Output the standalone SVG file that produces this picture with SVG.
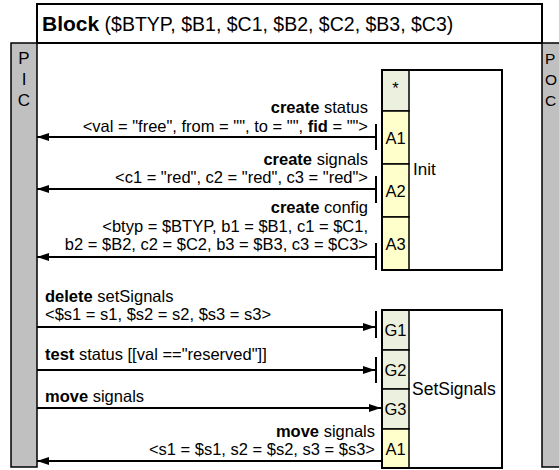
<svg xmlns="http://www.w3.org/2000/svg" width="559" height="470" viewBox="0 0 559 470">
<style>
text{font-family:"Liberation Sans",Arial,sans-serif;fill:#000}
.t{font-size:16.5px}
.c{font-size:16.5px;text-anchor:middle}
.p{font-size:17px}
.b{font-weight:bold}
.bar{fill:#c0c0c0;stroke:#000;stroke-width:1.5}
.box{fill:#fff;stroke:#000;stroke-width:2}
.g{fill:#ebf1de;stroke:#000;stroke-width:1.5}
.y{fill:#ffffcc;stroke:#000;stroke-width:1.5}
.ln{stroke:#000;stroke-width:2;fill:none}
.tb{stroke:#000;stroke-width:2}
</style>
<defs>
<marker id="ah" viewBox="0 0 12 8" refX="12" refY="4" markerWidth="12" markerHeight="8" markerUnits="userSpaceOnUse" orient="auto">
<path d="M0,0 L12,4 L0,8 Z" fill="#000"/>
</marker>
</defs>
<g id="title">
<rect x="37" y="4" width="505" height="39" fill="#fff" stroke="#000" stroke-width="2"/>
<text x="42" y="31" style="font-size:21px"><tspan class="b">Block</tspan><tspan style="font-size:19.5px"> ($BTYP, $B1, $C1, $B2, $C2, $B3, $C3)</tspan></text>
</g>
<g id="PIC">
<rect x="11" y="43" width="26" height="424" class="bar"/>
<text class="c p" x="24" y="64">P</text>
<text class="c p" x="24" y="85">I</text>
<text class="c p" x="24" y="106">C</text>
</g>
<g id="POC">
<rect x="542" y="43" width="20" height="424" class="bar"/>
<text x="545" y="64" style="font-size:15.5px">P</text>
<text x="545" y="85" style="font-size:15.5px">O</text>
<text x="545" y="106" style="font-size:15.5px">C</text>
</g>
<g id="Init">
<rect x="382" y="70" width="120" height="200" class="box"/>
<rect x="382" y="70" width="27" height="41" class="g"/>
<rect x="382" y="111" width="27" height="53" class="y"/>
<rect x="382" y="164" width="27" height="53" class="y"/>
<rect x="382" y="217" width="27" height="53" class="y"/>
<rect x="382" y="70" width="120" height="200" fill="none" stroke="#000" stroke-width="2"/>
<text class="c" x="395.5" y="94">*</text>
<text class="c" x="395.5" y="144">A1</text>
<text class="c" x="395.5" y="197">A2</text>
<text class="c" x="395.5" y="250">A3</text>
<text x="413" y="175" style="font-size:17px">Init</text>
</g>
<g id="SetSignals">
<rect x="382" y="310" width="120" height="158" class="box"/>
<rect x="382" y="310" width="27" height="40" class="g"/>
<rect x="382" y="350" width="27" height="39" class="g"/>
<rect x="382" y="389" width="27" height="40" class="g"/>
<rect x="382" y="429" width="27" height="39" class="y"/>
<rect x="382" y="310" width="120" height="158" fill="none" stroke="#000" stroke-width="2"/>
<text class="c" x="395.5" y="336">G1</text>
<text class="c" x="395.5" y="376">G2</text>
<text class="c" x="395.5" y="415">G3</text>
<text class="c" x="395.5" y="455">A1</text>
<text x="412" y="395" style="font-size:17.5px">SetSignals</text>
</g>
<g id="connectors">
<line x1="376" y1="137" x2="37" y2="137" class="ln" marker-end="url(#ah)"/>
<line x1="376" y1="124" x2="376" y2="150" class="tb"/>
<line x1="376" y1="189" x2="37" y2="189" class="ln" marker-end="url(#ah)"/>
<line x1="376" y1="176" x2="376" y2="203" class="tb"/>
<line x1="376" y1="257" x2="37" y2="257" class="ln" marker-end="url(#ah)"/>
<line x1="376" y1="243" x2="376" y2="270" class="tb"/>
<line x1="37" y1="327" x2="375" y2="327" class="ln" marker-end="url(#ah)"/>
<line x1="376" y1="311" x2="376" y2="338" class="tb"/>
<line x1="37" y1="370" x2="375" y2="370" class="ln" marker-end="url(#ah)"/>
<line x1="376" y1="357" x2="376" y2="383" class="tb"/>
<line x1="37" y1="408" x2="381" y2="408" class="ln" marker-end="url(#ah)"/>
<line x1="382" y1="461" x2="37" y2="461" class="ln" marker-end="url(#ah)"/>
</g>
<g id="labels">
<text class="t" x="368" y="113" text-anchor="end"><tspan class="b">create</tspan> status</text>
<text class="t" x="368" y="132" text-anchor="end">&lt;val = "free", from = "", to = "", <tspan class="b">fid</tspan> = ""&gt;</text>
<text class="t" x="368" y="165" text-anchor="end"><tspan class="b">create</tspan> signals</text>
<text class="t" x="368" y="183" text-anchor="end">&lt;c1 = "red", c2 = "red", c3 = "red"&gt;</text>
<text class="t" x="368" y="213" text-anchor="end"><tspan class="b">create</tspan> config</text>
<text class="t" x="368" y="232" text-anchor="end">&lt;btyp = $BTYP, b1 = $B1, c1 = $C1,</text>
<text class="t" x="368" y="250" text-anchor="end">b2 = $B2, c2 = $C2, b3 = $B3, c3 = $C3&gt;</text>
<text class="t" x="45" y="302"><tspan class="b">delete</tspan> setSignals</text>
<text class="t" x="45" y="320">&lt;$s1 = s1, $s2 = s2, $s3 = s3&gt;</text>
<text class="t" x="45" y="360"><tspan class="b">test</tspan> status [[val =="reserved"]]</text>
<text class="t" x="45" y="402"><tspan class="b">move</tspan> signals</text>
<text class="t" x="375" y="437" text-anchor="end"><tspan class="b">move</tspan> signals</text>
<text class="t" x="375" y="455" text-anchor="end">&lt;s1 = $s1, s2 = $s2, s3 = $s3&gt;</text>
</g>
</svg>
